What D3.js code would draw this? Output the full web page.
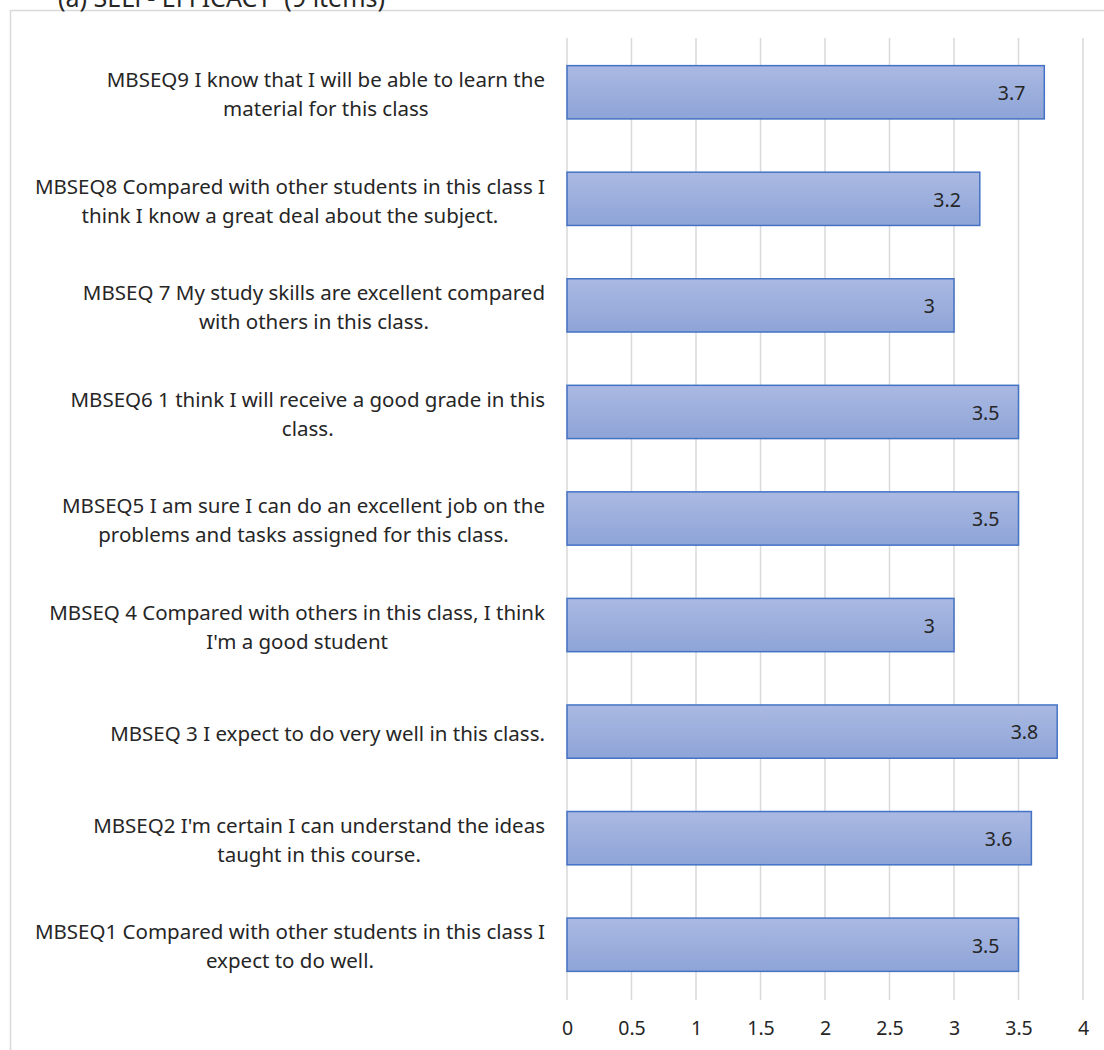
<!DOCTYPE html>
<html>
<head>
<meta charset="utf-8">
<script src="https://cdn.jsdelivr.net/npm/d3@7"></script>
<style>
  body { margin: 0; background: #fff; }
  svg text { font-family: "Noto Sans", "Open Sans", sans-serif; fill: #262626; }
</style>
</head>
<body>
<svg id="chart" width="1104" height="1050"></svg>
<script>
// categories from bottom to top, as in the source chart
var codes = ["MBSEQ1", "MBSEQ2", "MBSEQ3", "MBSEQ4", "MBSEQ5", "MBSEQ6", "MBSEQ7", "MBSEQ8", "MBSEQ9"];
var labels = [
  ["MBSEQ1 Compared with other students in this class I", "expect to do well."],
  ["MBSEQ2 I'm certain I can understand the ideas", "taught in this course."],
  ["MBSEQ 3 I expect to do very well in this class."],
  ["MBSEQ 4 Compared with others in this class, I think", "I'm a good student"],
  ["MBSEQ5 I am sure I can do an excellent job on the", "problems and tasks assigned for this class."],
  ["MBSEQ6 1 think I will receive a good grade in this", "class."],
  ["MBSEQ 7 My study skills are excellent compared", "with others in this class."],
  ["MBSEQ8 Compared with other students in this class I", "think I know a great deal about the subject."],
  ["MBSEQ9 I know that I will be able to learn the", "material for this class"]
];
var values = [3.5, 3.6, 3.8, 3, 3.5, 3.5, 3, 3.2, 3.7];
var ticks = [0, 0.5, 1, 1.5, 2, 2.5, 3, 3.5, 4];
var title = "(a) SELF- EFFICACY  (9 items)";

var svg = d3.select("#chart");

// gradient for bars
var grad = svg.append("defs").append("linearGradient")
  .attr("id", "barFill").attr("x1", 0).attr("y1", 0).attr("x2", 0).attr("y2", 1);
grad.append("stop").attr("offset", "0%").attr("stop-color", "#aab9e2");
grad.append("stop").attr("offset", "100%").attr("stop-color", "#8ea4d7");

// chart frame, partly off the page
svg.append("rect")
  .attr("x", 10.5).attr("y", 10.5).attr("width", 1100).attr("height", 1100)
  .attr("fill", "none").attr("stroke", "#d9d9d9").attr("stroke-width", 1.5);

// title, cut off at the top like the source
svg.append("text")
  .attr("x", 58).attr("y", 7)
  .attr("xml:space", "preserve")
  .style("white-space", "pre")
  .style("font-size", "25px")
  .text(title);

var x = d3.scaleLinear().domain([0, 4]).range([567, 1083]);
var y = d3.scaleBand().domain(codes.slice().reverse()).range([39, 998])
  .paddingInner(0.5).paddingOuter(0.25);

// vertical gridlines
svg.append("g").selectAll("line")
  .data(ticks).enter()
  .append("line")
  .attr("x1", function(d) { return x(d); })
  .attr("x2", function(d) { return x(d); })
  .attr("y1", 38).attr("y2", 1000)
  .attr("stroke", "#d9d9d9").attr("stroke-width", 1.5);

// x axis labels
var xAxis = d3.axisBottom(x).tickValues(ticks).tickSize(0).tickPadding(0)
  .tickFormat(function(d) { return String(d); });
var ax = svg.append("g").attr("transform", "translate(0,1021)").call(xAxis);
ax.select(".domain").remove();
ax.selectAll("text").style("font-size", "19.5px").attr("fill", "#262626")
  .style("font-family", "\"Noto Sans\", sans-serif");

// bars
var rows = svg.append("g").selectAll("g")
  .data(codes).enter().append("g");

rows.append("rect")
  .attr("x", x(0))
  .attr("y", function(d) { return y(d); })
  .attr("width", function(d, i) { return x(values[i]) - x(0); })
  .attr("height", y.bandwidth())
  .attr("fill", "url(#barFill)")
  .attr("stroke", "#4472c4").attr("stroke-width", 1.5);

rows.append("text")
  .attr("x", function(d, i) { return x(values[i]) - 19; })
  .attr("y", function(d) { return y(d) + y.bandwidth() / 2 + 1; })
  .attr("dy", "0.35em")
  .attr("text-anchor", "end")
  .style("font-size", "19.5px")
  .text(function(d, i) { return values[i]; });

// category labels: block right-aligned, lines centred within it
rows.each(function(d, i) {
  var g = d3.select(this);
  var lines = labels[i];
  var lh = 29;
  var cy = y(d) + y.bandwidth() / 2 + 2;
  var t = g.append("text")
    .attr("text-anchor", "middle")
    .style("font-size", "20.5px");
  lines.forEach(function(s, k) {
    t.append("tspan")
      .attr("y", cy + (k - (lines.length - 1) / 2) * lh)
      .attr("dy", "0.35em")
      .text(s);
  });
  var maxW = 0;
  t.selectAll("tspan").each(function() {
    maxW = Math.max(maxW, this.getComputedTextLength());
  });
  t.selectAll("tspan").attr("x", 545 - maxW / 2);
});
</script>
</body>
</html>
